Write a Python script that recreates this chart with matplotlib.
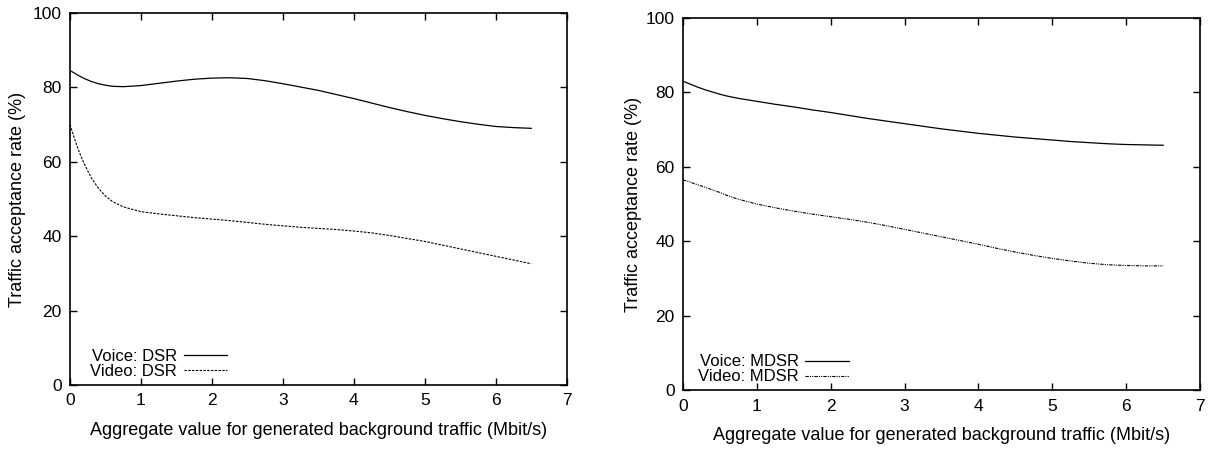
import matplotlib.pyplot as plt

plt.rcParams['font.family'] = ['Liberation Sans', 'DejaVu Sans']

x = [0, 0.05, 0.1, 0.15, 0.2, 0.3, 0.4, 0.5, 0.6, 0.75,
     1.0, 1.25, 1.5, 1.75, 2.0, 2.25, 2.5, 2.75, 3.0, 3.25, 3.5, 3.75,
     4.0, 4.25, 4.5, 4.75, 5.0, 5.25, 5.5, 5.75, 6.0, 6.25, 6.5]

voice_dsr = [84.5, 84.0, 83.4, 82.9, 82.4, 81.6, 81.0, 80.6, 80.3, 80.2,
             80.5, 81.1, 81.7, 82.2, 82.5, 82.6, 82.4, 81.8, 81.0, 80.1, 79.2, 78.1,
             77.0, 75.8, 74.6, 73.5, 72.5, 71.6, 70.8, 70.1, 69.5, 69.2, 69.0]
video_dsr = [70.0, 67.0, 64.2, 61.7, 59.5, 55.7, 52.9, 50.8, 49.3, 47.9,
             46.6, 46.0, 45.5, 45.0, 44.6, 44.2, 43.7, 43.2, 42.8, 42.4, 42.1, 41.8,
             41.4, 40.9, 40.2, 39.4, 38.6, 37.6, 36.6, 35.6, 34.6, 33.6, 32.6]

voice_mdsr = [83.0, 82.6, 82.2, 81.8, 81.4, 80.7, 80.1, 79.5, 79.0, 78.4,
              77.6, 76.8, 76.1, 75.3, 74.6, 73.8, 73.0, 72.3, 71.6, 70.9, 70.2, 69.6,
              69.0, 68.5, 68.0, 67.6, 67.2, 66.8, 66.5, 66.2, 66.0, 65.9, 65.8]
video_mdsr = [56.5, 56.2, 55.9, 55.5, 55.2, 54.5, 53.8, 53.1, 52.3, 51.3,
              50.0, 49.0, 48.1, 47.3, 46.6, 45.9, 45.1, 44.2, 43.2, 42.2, 41.2, 40.2,
              39.2, 38.1, 37.1, 36.2, 35.4, 34.7, 34.1, 33.7, 33.5, 33.4, 33.4]

xticks = [0, 1, 2, 3, 4, 5, 6, 7]
yticks = [0, 20, 40, 60, 80, 100]

fig = plt.figure(figsize=(12.11, 4.49), dpi=100)
ax1 = fig.add_axes([0.0578, 0.1425, 0.4102, 0.8285])
ax2 = fig.add_axes([0.564, 0.131, 0.427, 0.829])


def style(ax, ylabelpad):
    ax.set_xlim(0, 7)
    ax.set_ylim(0, 100)
    ax.set_xticks(xticks)
    ax.set_yticks(yticks)
    ax.tick_params(direction='in', top=True, right=True, length=5, width=1,
                   labelsize=12.5, pad=6)
    for s in ax.spines.values():
        s.set_linewidth(1.2)
    ax.set_xlabel('Aggregate value for generated background traffic (Mbit/s)', fontsize=13, labelpad=10)
    ax.set_ylabel('Traffic acceptance rate (%)', fontsize=13, labelpad=ylabelpad)


ax1.plot(x, voice_dsr, color='black', lw=0.9, label='Voice: DSR')
ax1.plot(x, video_dsr, color='black', lw=0.8, dashes=(2.2, 1.2), label='Video: DSR')
style(ax1, 5)
ax1.legend(loc='lower left', bbox_to_anchor=(0.011, -0.025), frameon=False, markerfirst=False,
           fontsize=12, handlelength=2.6, labelspacing=0.0, handletextpad=0.4)

ax2.plot(x, voice_mdsr, color='black', lw=0.9, label='Voice: MDSR')
ax2.plot(x, video_mdsr, color='black', lw=0.8, dashes=(3, 1, 1, 1, 1, 1), label='Video: MDSR')
style(ax2, 3)
ax2.legend(loc='lower left', bbox_to_anchor=(0.0, -0.025), frameon=False, markerfirst=False,
           fontsize=12, handlelength=2.6, labelspacing=0.0, handletextpad=0.4)

fig.savefig('out.png', dpi=100)
